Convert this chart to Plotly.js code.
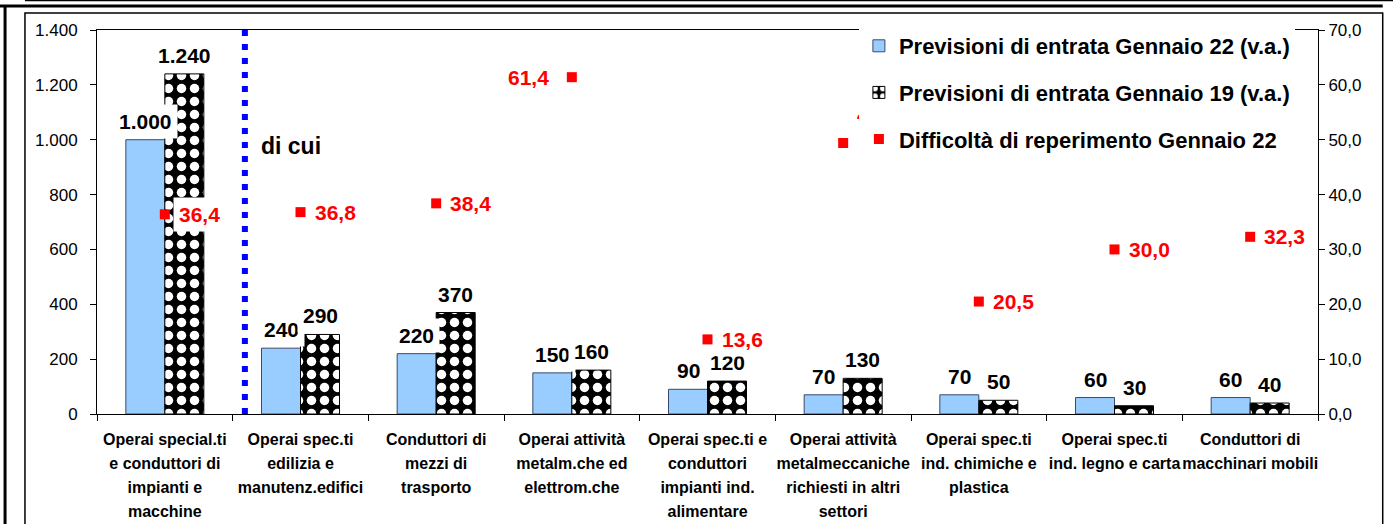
<!DOCTYPE html>
<html><head><meta charset="utf-8">
<script src="https://cdn.plot.ly/plotly-3.0.1.min.js"></script>
<style>html,body{margin:0;padding:0;background:#fff}#chart{width:1393px;height:524px}</style>
</head><body><div id="chart"></div>
<script>
// ---- data ----
const categories = [
  'Operai special.ti<br>e conduttori di<br>impianti e<br>macchine',
  'Operai spec.ti<br>edilizia e<br>manutenz.edifici',
  'Conduttori di<br>mezzi di<br>trasporto',
  'Operai attività<br>metalm.che ed<br>elettrom.che',
  'Operai spec.ti e<br>conduttori<br>impianti ind.<br>alimentare',
  'Operai attività<br>metalmeccaniche<br>richiesti in altri<br>settori',
  'Operai spec.ti<br>ind. chimiche e<br>plastica',
  'Operai spec.ti<br>ind. legno e carta',
  'Conduttori di<br>macchinari mobili'
];
const entrate22 = [1000, 240, 220, 150, 90, 70, 70, 60, 60];
const entrate19 = [1240, 290, 370, 160, 120, 130, 50, 30, 40];
const difficolta22 = [36.4, 36.8, 38.4, 61.4, 13.6, 49.4, 20.5, 30.0, 32.3];
const seriesNames = [
  'Previsioni di entrata Gennaio 22 (v.a.)',
  'Previsioni di entrata Gennaio 19 (v.a.)',
  'Difficoltà di reperimento Gennaio 22'
];
const noteText = 'di cui';

// ---- helpers ----
const FONT = 'Liberation Sans, Arial, Helvetica, sans-serif';
const fmtInt = v => String(v).replace(/\B(?=(\d{3})+(?!\d))/g, '.');
const fmtDec = v => v.toFixed(1).replace('.', ',');
const tickText = categories.map(c => c.split('<br>')
  .map(l => '<span style="font-size:16px">' + l + '</span>').join('<br>'));

const traces = [
  {type: 'bar', name: seriesNames[0], x: categories, y: entrate22, legendgroup: 'a',
   marker: {color: '#99CCFF', line: {color: '#3a4a6a', width: 1}}, hoverinfo: 'y'},
  {type: 'bar', name: seriesNames[1], x: categories, y: entrate19, legendgroup: 'b',
   marker: {color: 'black', line: {color: 'black', width: 1},
            pattern: {shape: '.', fgcolor: 'white', bgcolor: 'black', size: 13, solidity: 0.42, fillmode: 'replace'}},
   hoverinfo: 'y'},
  {type: 'scatter', mode: 'markers', name: seriesNames[2], x: categories, y: difficolta22, yaxis: 'y2', legendgroup: 'c',
   marker: {symbol: 'square', size: 10, color: '#FF0000'}, hoverinfo: 'y'}
];

const BAR_HALF = 19.5;
const labelFont = {family: FONT, size: 21, color: 'black', weight: 'bold'};
const annotations = [];
entrate22.forEach((v, i) => annotations.push({
  x: categories[i], y: v, xref: 'x', yref: 'y', text: fmtInt(v), showarrow: false,
  xshift: -BAR_HALF, yanchor: 'bottom', yshift: 1, bgcolor: 'white', borderpad: 5, font: labelFont}));
entrate19.forEach((v, i) => annotations.push({
  x: categories[i], y: v, xref: 'x', yref: 'y', text: fmtInt(v), showarrow: false,
  xshift: BAR_HALF, yanchor: 'bottom', yshift: 1, bgcolor: 'white', borderpad: 5, font: labelFont}));
difficolta22.forEach((v, i) => {
  const left = (i === 3);
  const up = (i === 5);
  annotations.push({
    x: categories[i], y: v, xref: 'x', yref: 'y2', text: fmtDec(v), showarrow: false,
    xanchor: left ? 'right' : 'left', xshift: left ? -17 : 8, yshift: up ? 29 : 0,
    yanchor: 'middle', bgcolor: 'white', borderpad: 5,
    font: {family: FONT, size: 21, color: '#FF0000', weight: 'bold'}});
});
annotations.push({xref: 'paper', yref: 'paper', x: 0.133, y: 0.698, xanchor: 'left', yanchor: 'middle',
  text: noteText, showarrow: false, font: {family: FONT, size: 23, color: 'black', weight: 'bold'}});

const shapes = [
  // dotted separator
  {type: 'line', xref: 'x', yref: 'paper', x0: 0.59, x1: 0.59, y0: 0, y1: 1,
   line: {color: '#0000FF', width: 6, dash: '6px,8px'}},
  // outer frame
  {type: 'line', xref: 'paper', yref: 'paper', x0: -0.08, x1: 1.053, y0: 1.0625, y1: 1.0625, line: {color: 'black', width: 3}},
  {type: 'line', xref: 'paper', yref: 'paper', x0: -0.059, x1: 1.08, y0: 1.0768, y1: 1.0768, line: {color: 'black', width: 1.5}},
  {type: 'line', xref: 'paper', yref: 'paper', x0: -0.0753, x1: -0.0753, y0: -0.3, y1: 1.0625, line: {color: 'black', width: 3}},
  {type: 'rect', xref: 'paper', yref: 'paper', x0: -0.059, x1: 1.053, y0: -0.3, y1: 1.044, line: {color: 'black', width: 1.5}}
];

const layout = {
  width: 1393, height: 524,
  margin: {l: 97, r: 75, t: 30, b: 110},
  paper_bgcolor: 'white', plot_bgcolor: 'white',
  separators: ',.',
  font: {family: FONT, color: 'black'},
  barmode: 'group', bargap: 0.425, bargroupgap: 0,
  showlegend: true,
  legend: {x: 0.624, xanchor: 'left', y: 1.013, yanchor: 'top', bgcolor: 'white', borderwidth: 0,
    tracegroupgap: 15, font: {family: FONT, size: 22, color: 'black', weight: 'bold'}},
  xaxis: {type: 'category', tickvals: categories, ticktext: tickText, tickson: 'boundaries',
    ticks: 'outside', ticklen: 6, tickcolor: 'black', showline: true, linecolor: 'black', linewidth: 1,
    mirror: true, showgrid: false, zeroline: false, tickangle: 0, ticklabelstandoff: 8,
    tickfont: {family: FONT, size: 18.5, color: 'black', weight: 'bold'}, automargin: false, fixedrange: true},
  yaxis: {range: [0, 1400], dtick: 200, tickformat: ',.0f', ticks: 'outside', ticklen: 6, tickcolor: 'black',
    showline: true, linecolor: 'black', linewidth: 1, showgrid: false, zeroline: false, ticklabelstandoff: 9,
    tickfont: {family: FONT, size: 17, color: 'black'}, automargin: false, fixedrange: true},
  yaxis2: {range: [0, 70], dtick: 10, tickformat: '.1f', overlaying: 'y', side: 'right', ticks: 'outside',
    ticklen: 6, tickcolor: 'black', showline: true, linecolor: 'black', linewidth: 1, showgrid: false,
    zeroline: false, tickfont: {family: FONT, size: 17, color: 'black'}, automargin: false, fixedrange: true},
  annotations: annotations,
  shapes: shapes
};

Plotly.newPlot('chart', traces, layout, {displayModeBar: false, staticPlot: true}).then(gd => {
  const info = gd.querySelector('.infolayer');
  const leg = info && info.querySelector('.legend');
  if (leg) info.appendChild(leg);
});
</script>
</body></html>
